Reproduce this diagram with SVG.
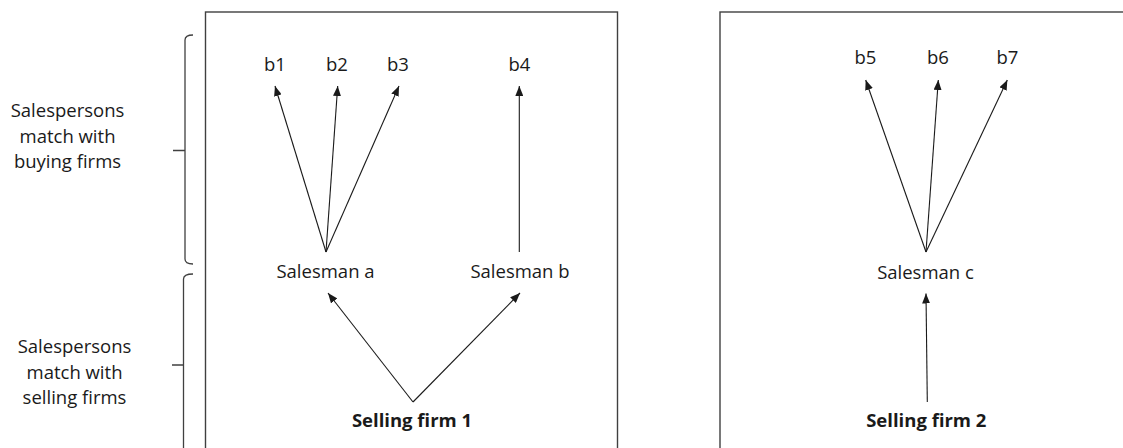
<svg xmlns="http://www.w3.org/2000/svg" width="1123" height="448" viewBox="0 0 1123 448">
<style>
text{font-family:"Open Sans","Liberation Sans",sans-serif;font-size:18.5px;fill:#1a1a1a;text-anchor:middle}
.bold{font-weight:bold}
.frame{fill:none;stroke:#404040;stroke-width:1.4}
.brk{fill:none;stroke:#404040;stroke-width:1.3}
.arr{fill:none;stroke:#1a1a1a;stroke-width:1.1;marker-end:url(#ah)}
</style>
<defs>
<marker id="ah" markerUnits="userSpaceOnUse" markerWidth="10" markerHeight="8" refX="10" refY="4" orient="auto">
<path d="M0,0 L10,4 L0,8 z" fill="#1a1a1a"/>
</marker>
</defs>
<rect width="1123" height="448" fill="#fff"/>
<g id="brackets">
<path class="brk" d="M193,35 Q185,35 185,40 L185,259 Q185,264 193,264 M185,150.5 H173"/>
<path class="brk" d="M193,274 Q183.5,274 183.5,279 L183.5,460 M183.5,365 H172"/>
</g>
<g id="label-buying">
<text x="67.5" y="117">Salespersons</text>
<text x="67.5" y="143">match with</text>
<text x="67.5" y="168">buying firms</text>
</g>
<g id="label-selling">
<text x="74.5" y="353">Salespersons</text>
<text x="74.5" y="379">match with</text>
<text x="74.5" y="404">selling firms</text>
</g>
<g id="box1"><rect class="frame" x="205.5" y="12" width="412" height="460"/></g>
<g id="box2"><rect class="frame" x="720" y="12" width="420" height="460"/></g>
<g id="connectors">
<path class="arr" d="M326,252 L275,86"/>
<path class="arr" d="M326,252 L337.7,86"/>
<path class="arr" d="M326,252 L399,86"/>
<path class="arr" d="M519.3,252 L519.3,86"/>
<path class="arr" d="M413,402 L328,293"/>
<path class="arr" d="M413,402 L520,293"/>
<path class="arr" d="M926,252 L865.7,80"/>
<path class="arr" d="M926,252 L938.3,80"/>
<path class="arr" d="M926,252 L1007.3,80"/>
<path class="arr" d="M927.3,402 L926,293.5"/>
</g>
<g id="b1"><text x="275" y="70.5">b1</text></g>
<g id="b2"><text x="337" y="70.5">b2</text></g>
<g id="b3"><text x="398" y="70.5">b3</text></g>
<g id="b4"><text x="519.5" y="70.5">b4</text></g>
<g id="b5"><text x="865.5" y="64">b5</text></g>
<g id="b6"><text x="938" y="64">b6</text></g>
<g id="b7"><text x="1007.5" y="64">b7</text></g>
<g id="salesman-a"><text x="325.5" y="278">Salesman a</text></g>
<g id="salesman-b"><text x="520" y="278">Salesman b</text></g>
<g id="salesman-c"><text x="925.5" y="279">Salesman c</text></g>
<g id="selling-firm-1"><text class="bold" x="412" y="426.5">Selling firm 1</text></g>
<g id="selling-firm-2"><text class="bold" x="926.3" y="426.5">Selling firm 2</text></g>
</svg>
